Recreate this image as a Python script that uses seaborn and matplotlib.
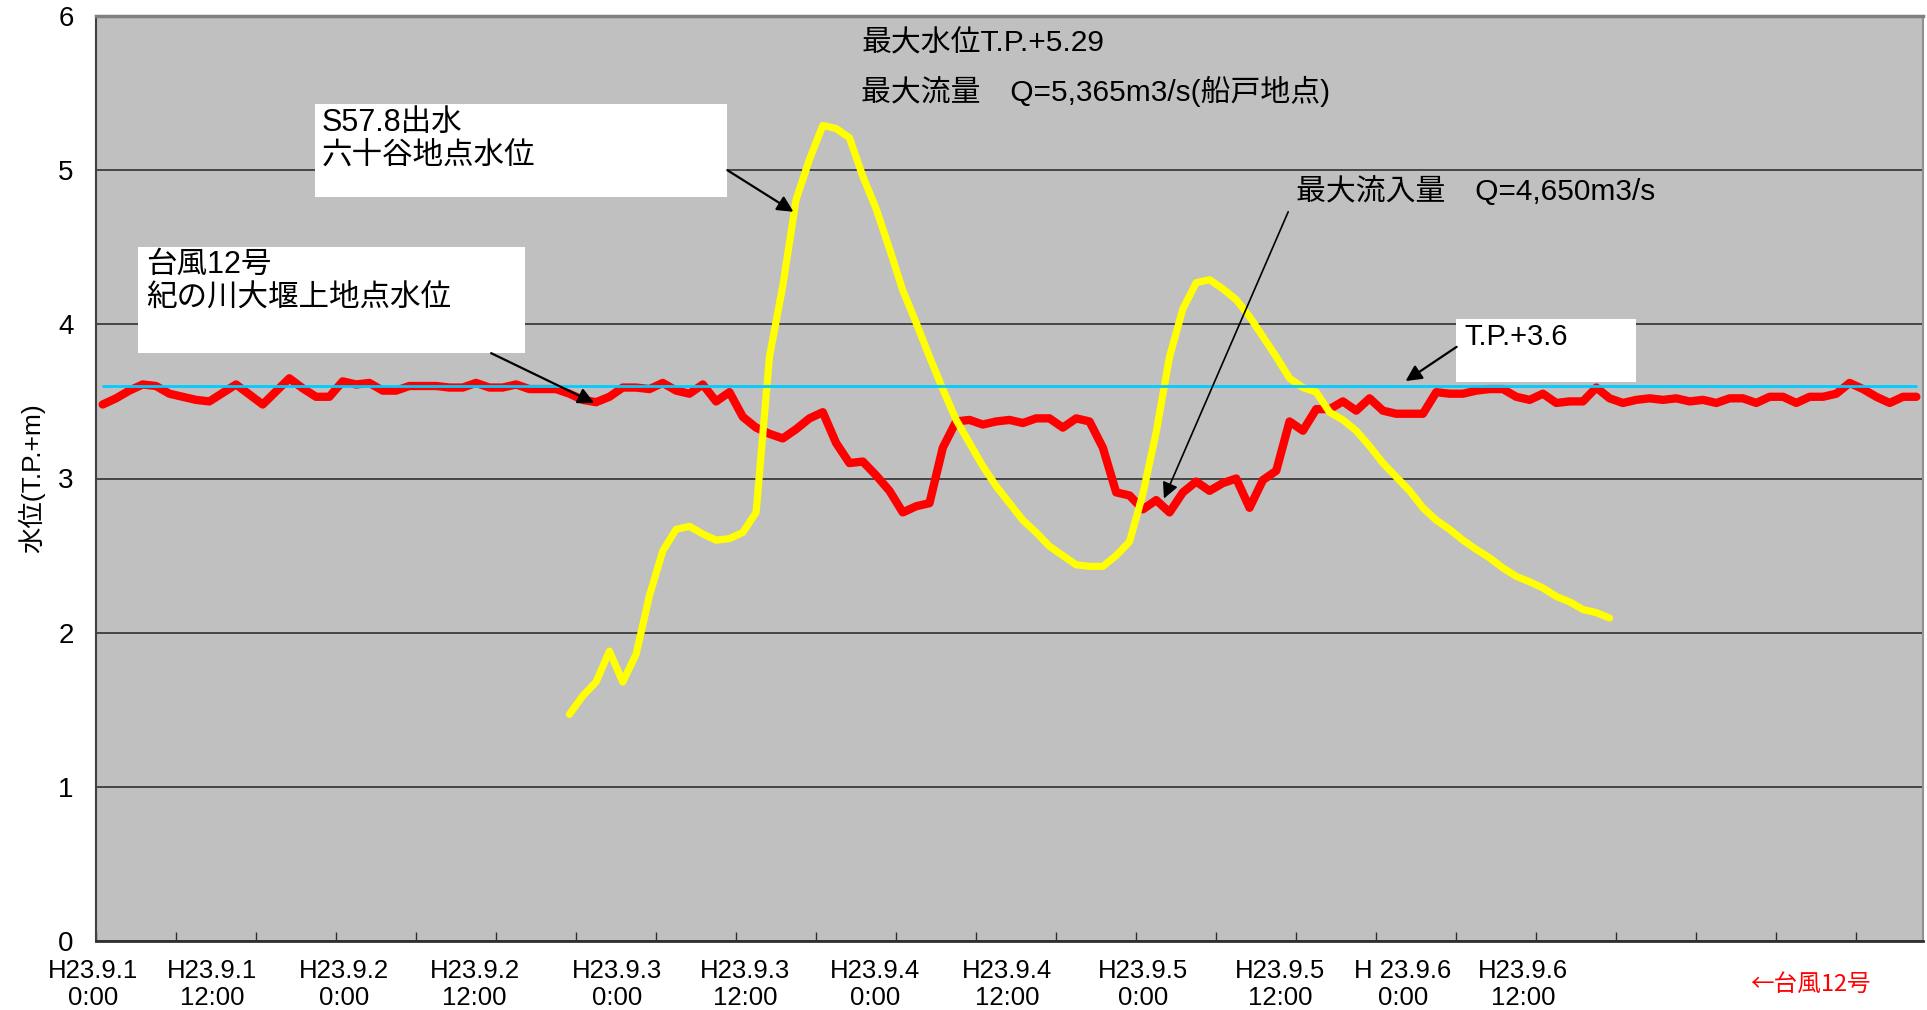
import matplotlib
matplotlib.use("Agg")
import numpy as np
import pandas as pd
import matplotlib.pyplot as plt
import seaborn as sns
from matplotlib.patches import Rectangle

# 台風12号 紀の川大堰上地点水位 (category index 0..136)
typhoon12_level = [
    3.48, 3.52, 3.57, 3.61, 3.60, 3.55, 3.53, 3.51, 3.50, 3.555,
    3.61, 3.545, 3.48, 3.565, 3.65, 3.585, 3.53, 3.53, 3.63, 3.61,
    3.62, 3.57, 3.57, 3.60, 3.60, 3.60, 3.59, 3.59, 3.62, 3.59,
    3.59, 3.61, 3.58, 3.58, 3.58, 3.55, 3.51, 3.495, 3.53, 3.59,
    3.59, 3.58, 3.62, 3.57, 3.55, 3.61, 3.50, 3.56, 3.40, 3.33,
    3.29, 3.26, 3.32, 3.39, 3.43, 3.23, 3.10, 3.11, 3.02, 2.92,
    2.78, 2.82, 2.84, 3.20, 3.37, 3.38, 3.35, 3.37, 3.38, 3.36,
    3.39, 3.39, 3.33, 3.39, 3.37, 3.20, 2.91, 2.89, 2.80, 2.86,
    2.78, 2.91, 2.98, 2.92, 2.97, 3.00, 2.81, 2.99, 3.05, 3.37,
    3.31, 3.45, 3.45, 3.50, 3.44, 3.52, 3.44, 3.42, 3.42, 3.42,
    3.56, 3.55, 3.55, 3.57, 3.58, 3.58, 3.53, 3.51, 3.55, 3.49,
    3.50, 3.50, 3.59, 3.52, 3.49, 3.51, 3.52, 3.51, 3.52, 3.50,
    3.51, 3.49, 3.52, 3.52, 3.49, 3.53, 3.53, 3.49, 3.53, 3.53,
    3.55, 3.62, 3.58, 3.53, 3.49, 3.53, 3.53,
]

# S57.8出水 六十谷地点水位 (starts at category 35)
s57_start = 35
s57_level = [
    1.47, 1.59, 1.68, 1.88, 1.68, 1.86, 2.24, 2.53, 2.67, 2.69,
    2.64, 2.60, 2.61, 2.65, 2.78, 3.79, 4.25, 4.81, 5.07, 5.29,
    5.27, 5.21, 4.96, 4.75, 4.49, 4.22, 4.01, 3.79, 3.58, 3.38,
    3.23, 3.08, 2.95, 2.84, 2.73, 2.65, 2.56, 2.50, 2.44, 2.43,
    2.43, 2.50, 2.59, 2.90, 3.30, 3.79, 4.10, 4.27, 4.29, 4.23,
    4.16, 4.05, 3.92, 3.79, 3.65, 3.59, 3.56, 3.43, 3.38, 3.31,
    3.21, 3.10, 3.01, 2.92, 2.81, 2.73, 2.67, 2.60, 2.54, 2.485,
    2.42, 2.365, 2.33, 2.29, 2.235, 2.20, 2.15, 2.13, 2.095,
]

tp_level = 3.6

date_labels = [
    "H23.9.1\n0:00", "H23.9.1\n12:00", "H23.9.2\n0:00", "H23.9.2\n12:00",
    "H23.9.3\n0:00", "H23.9.3\n12:00", "H23.9.4\n0:00", "H23.9.4\n12:00",
    "H23.9.5\n0:00", "H23.9.5\n12:00", "H 23.9.6\n0:00", "H23.9.6\n12:00",
]
date_label_pos = [-0.7, 8.2, 18.1, 27.9, 38.6, 48.2, 57.9, 67.8, 78.0, 88.3, 97.5, 106.5]

red_df = pd.DataFrame({"idx": np.arange(len(typhoon12_level)), "level": typhoon12_level})
yel_df = pd.DataFrame({"idx": np.arange(s57_start, s57_start + len(s57_level)), "level": s57_level})
tp_df = pd.DataFrame({"idx": [0, len(typhoon12_level) - 1], "level": [tp_level, tp_level]})

sns.set_theme(style="white")
plt.rcParams["font.family"] = ["Liberation Sans", "Noto Sans CJK JP", "DejaVu Sans"]
for key in ["text.color", "axes.labelcolor", "xtick.color", "ytick.color"]:
    plt.rcParams[key] = "black"

W, H = 1927, 1010
fig = plt.figure(figsize=(W / 100, H / 100), dpi=100)
fig.patch.set_facecolor("white")
ax = fig.add_axes([96 / W, 1 - 941 / H, 1827 / W, 925 / H])
ax.set_facecolor("#C0C0C0")

sns.lineplot(data=red_df, x="idx", y="level", ax=ax, color="#FF0000",
             linewidth=6.0, estimator=None, legend=False, zorder=3)
sns.lineplot(data=yel_df, x="idx", y="level", ax=ax, color="#FFFF00",
             linewidth=5.2, estimator=None, legend=False, zorder=4)
sns.lineplot(data=tp_df, x="idx", y="level", ax=ax, color="#00CCFF",
             linewidth=2.0, estimator=None, legend=False, zorder=5)

ax.set_xlim(-0.5, len(typhoon12_level) - 0.5)
ax.set_ylim(0, 6)
ax.set_yticks(range(7))
ax.grid(True, axis="y", color="#303030", linewidth=1.2)
ax.set_axisbelow(True)
ax.tick_params(axis="y", length=0, pad=16, labelsize=20)
ax.set_xlabel("")
ax.set_ylabel("水位(T.P.+m)", fontsize=19)
ax.yaxis.set_label_coords(-0.028, 0.5)

ax.set_xticks([])
ax.set_xticks(np.arange(-0.5, len(typhoon12_level), 6), minor=True)
ax.tick_params(axis="x", which="minor", direction="in", length=6.5,
               width=1, color="#303030", bottom=True)

for side, col, lw in [("top", "#808080", 2.5), ("right", "#909090", 1.5),
                      ("left", "#404040", 1.5), ("bottom", "#303030", 2.0)]:
    ax.spines[side].set_visible(True)
    ax.spines[side].set_color(col)
    ax.spines[side].set_linewidth(lw)

xt = ax.get_xaxis_transform()
for pos, lab in zip(date_label_pos, date_labels):
    ax.text(pos, -0.047, lab, transform=xt, ha="center", va="center",
            fontsize=18.5, linespacing=1.15, clip_on=False)
ax.text(128.1, -0.047, "←台風12号", transform=xt, ha="center", va="center",
        fontsize=17, color="#FF0000", clip_on=False,
        family=["Noto Sans CJK JP", "DejaVu Sans"])

# white label boxes
ax.add_patch(Rectangle((15.93, 4.825), 30.9, 0.605, facecolor="white",
                       edgecolor="none", zorder=6))
ax.text(16.45, 5.20, "S57.8出水\n六十谷地点水位", fontsize=22, va="center",
        ha="left", linespacing=1.1, zorder=7)
ax.add_patch(Rectangle((2.65, 3.813), 29.0, 0.687, facecolor="white",
                       edgecolor="none", zorder=6))
ax.text(3.25, 4.28, "台風12号\n紀の川大堰上地点水位", fontsize=22, va="center",
        ha="left", linespacing=1.1, zorder=7)
ax.add_patch(Rectangle((101.5, 3.627), 13.45, 0.407, facecolor="white",
                       edgecolor="none", zorder=6))
ax.text(102.1, 3.915, "T.P.+3.6", fontsize=21, va="center", ha="left", zorder=7)

ax.text(56.9, 5.82, "最大水位T.P.+5.29", fontsize=21.5, va="center", ha="left")
ax.text(56.9, 5.51, "最大流量　Q=5,365m3/s(船戸地点)", fontsize=21.5, va="center", ha="left")
ax.text(89.5, 4.866, "最大流入量　Q=4,650m3/s", fontsize=21.5, va="center", ha="left")

arrow = dict(arrowstyle="-|>", color="black", shrinkA=0, shrinkB=0, mutation_scale=24)
ax.annotate("", xy=(51.8, 4.73), xytext=(46.84, 5.0),
            arrowprops=dict(arrow, lw=1.6), zorder=8)
ax.annotate("", xy=(36.86, 3.49), xytext=(29.13, 3.813),
            arrowprops=dict(arrow, lw=1.6), zorder=8)
ax.annotate("", xy=(79.58, 2.87), xytext=(88.9, 4.73),
            arrowprops=dict(arrow, lw=1.2), zorder=8)
ax.annotate("", xy=(97.7, 3.632), xytext=(101.53, 3.854),
            arrowprops=dict(arrow, lw=1.6), zorder=8)

fig.savefig("out.png", dpi=100, facecolor="white")
